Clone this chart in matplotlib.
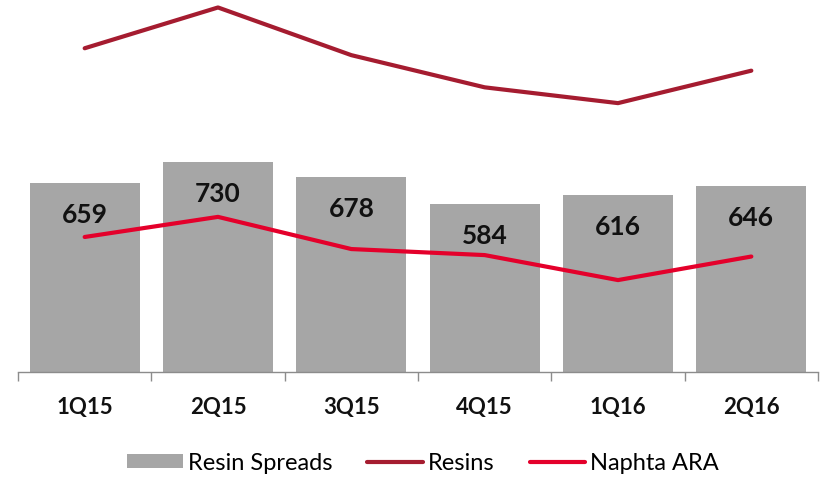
import numpy as np
import matplotlib
matplotlib.use('Agg')
import matplotlib.pyplot as plt

# ===================== dados =====================
quarters = ['1Q15', '2Q15', '3Q15', '4Q15', '1Q16', '2Q16']
resin_spreads = [659, 730, 678, 584, 616, 646]
resins = [1127, 1269, 1103, 991, 936, 1049]
naphta_ara = [470, 540, 428, 407, 320, 402]

plt.rcParams['font.family'] = ['Lato', 'DejaVu Sans']

fig = plt.figure(figsize=(8.21, 4.8), dpi=100)
ax = fig.add_axes([18 / 821, 108 / 480, 800 / 821, 372 / 480])

x = np.arange(len(quarters))
b = ax.bar(x, resin_spreads, width=0.825, color='#A6A6A6', label='Resin Spreads', zorder=1)
l1, = ax.plot(x, resins, color='#A51C30', lw=3.0, solid_capstyle='round', label='Resins', zorder=3)
l2, = ax.plot(x, naphta_ara, color='#E4002B', lw=3.0, solid_capstyle='round', label='Naphta ARA', zorder=3)

for xi, v in zip(x, resin_spreads):
    ax.annotate(str(v), (xi, v), xytext=(0, -23), textcoords='offset points',
                ha='center', va='center', fontsize=19, fontweight='bold', color='#111111', zorder=2)

ax.set_xlim(-0.5, 5.5)
ax.set_ylim(0, 1295)
ax.set_yticks([])
for s in ['left', 'right', 'top']:
    ax.spines[s].set_visible(False)
ax.spines['bottom'].set_color('#8C8C8C')
ax.spines['bottom'].set_linewidth(1.0)

ax.set_xticks(x)
ax.set_xticklabels(quarters, fontsize=16, fontweight='bold', color='#111111')
ax.tick_params(axis='x', which='major', length=0, pad=18)
ax.set_xticks(np.arange(-0.5, 6.0, 1.0), minor=True)
ax.tick_params(axis='x', which='minor', length=6.5, color='#8C8C8C', width=1.0)

fig.legend([b, l1, l2], ['Resin Spreads', 'Resins', 'Naphta ARA'],
           loc='center', bbox_to_anchor=(423 / 821, 1 - 463 / 480), ncol=3, frameon=False,
           fontsize=17, handlelength=2.35, handleheight=0.55, handletextpad=0.2,
           columnspacing=1.5)

fig.savefig('out.png', dpi=100)
